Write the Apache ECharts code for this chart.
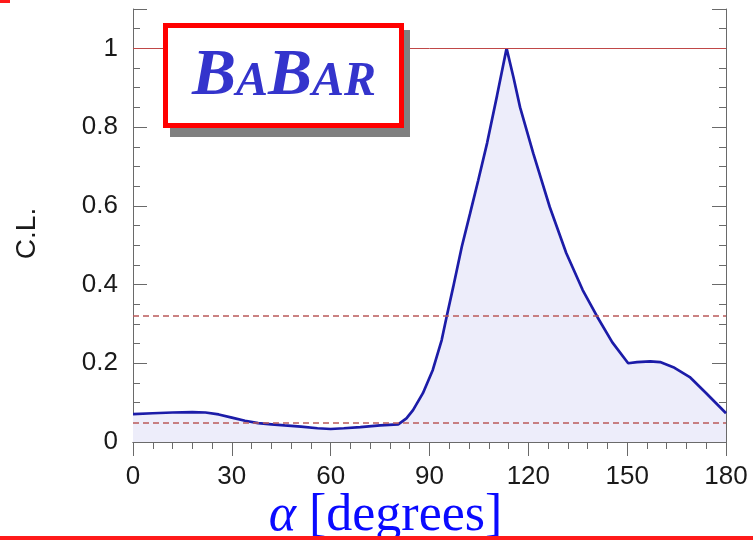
<!DOCTYPE html>
<html>
<head>
<meta charset="utf-8">
<script src="https://cdn.jsdelivr.net/npm/echarts@6/dist/echarts.min.js"></script>
<style>
  html, body { margin: 0; padding: 0; background: #ffffff; }
  #chart { width: 753px; height: 540px; }
</style>
</head>
<body>
<div id="chart"></div>
<script>
// ---- data ----
const alphaDeg = [0, 6, 12, 18, 22, 26, 30, 34, 38, 42, 46, 51, 56, 60, 64, 69, 75, 80.5,
                  83, 85, 88, 91, 93.7, 95.2, 97.2, 99.8, 102.3, 104.8, 107.5, 110.5, 113.4,
                  115.5, 117.5, 121.5, 126.5, 131.5, 136.5, 141, 145.5, 150.3,
                  153, 157, 160, 164, 169, 174, 180];
const confLevel = [0.071, 0.073, 0.075, 0.076, 0.075, 0.070, 0.062, 0.054, 0.048, 0.045, 0.042, 0.039, 0.035, 0.033, 0.035, 0.038, 0.042, 0.045,
                   0.060, 0.081, 0.124, 0.183, 0.259, 0.318, 0.394, 0.496, 0.58, 0.665, 0.76, 0.88, 1.0,
                   0.926, 0.85, 0.733, 0.597, 0.48, 0.386, 0.317, 0.253, 0.2,
                   0.203, 0.205, 0.203, 0.19, 0.165, 0.124, 0.073];
const xTickLabels = [0, 30, 60, 90, 120, 150, 180];
const yTickLabels = [0, 0.2, 0.4, 0.6, 0.8, 1];
const solidRef = [1.0];
const dashedRefs = [0.32, 0.046];
const xTitle = ' [degrees]';
const xSymbol = 'α';
const yTitle = 'C.L.';

const points = alphaDeg.map((a, i) => [a, confLevel[i]]);

const chart = echarts.init(document.getElementById('chart'), null, { renderer: 'canvas' });

const frameColor = '#6a6a6a';
const sans = '"Liberation Sans", Arial, sans-serif';
const serif = '"Liberation Serif", "Times New Roman", serif';

function xAxisBase(pos, showLabel) {
  return {
    type: 'value', position: pos, min: 0, max: 180, interval: 30,
    axisLine: { show: true, lineStyle: { color: frameColor, width: 1 } },
    axisTick: { show: true, inside: true, length: 14, lineStyle: { color: frameColor } },
    minorTick: { show: true, splitNumber: 5, length: 7, lineStyle: { color: frameColor } },
    splitLine: { show: false }, minorSplitLine: { show: false },
    axisLabel: {
      show: showLabel, margin: 22, fontSize: 26, color: '#1a1a1a', fontFamily: sans,
      formatter: v => xTickLabels.includes(v) ? String(v) : ''
    }
  };
}
function yAxisMajor(pos, showLabel) {
  return {
    type: 'value', position: pos, min: 0, max: 1.1, interval: 0.2,
    axisLine: { show: true, lineStyle: { color: frameColor, width: 1 } },
    axisTick: { show: true, inside: true, length: 14, lineStyle: { color: frameColor } },
    splitLine: { show: false },
    axisLabel: {
      show: showLabel, margin: 15, fontSize: 26, color: '#1a1a1a', fontFamily: sans,
      formatter: v => {
        const m = yTickLabels.find(t => Math.abs(t - v) < 1e-6);
        return m === undefined ? '' : String(m);
      }
    }
  };
}
function yAxisMinor(pos) {
  return {
    type: 'value', position: pos, min: 0, max: 1.1, interval: 0.05,
    axisLine: { show: false },
    axisTick: { show: true, inside: true, length: 7, lineStyle: { color: frameColor } },
    splitLine: { show: false },
    axisLabel: { show: false }
  };
}

const yLeft = yAxisMajor('left', true);
yLeft.name = yTitle;
yLeft.nameLocation = 'middle';
yLeft.nameGap = 92;
yLeft.nameMoveOverlap = false;
yLeft.nameTextStyle = { fontSize: 28, color: '#1a1a1a', fontFamily: sans, padding: [0, 16, 0, 0] };

const xBottom = xAxisBase('bottom', true);
xBottom.name = '{a|' + xSymbol + '}{b|' + xTitle + '}';
xBottom.nameLocation = 'middle';
xBottom.nameGap = 48;
xBottom.nameMoveOverlap = false;
xBottom.nameTextStyle = {
  padding: [0, 88, 0, 0],
  rich: {
    a: { fontSize: 52, fontStyle: 'italic', color: '#0a0aff', fontFamily: serif },
    b: { fontSize: 52, color: '#0a0aff', fontFamily: serif }
  }
};

const option = {
  animation: false,
  backgroundColor: '#ffffff',
  grid: { left: 133, right: 27, top: 9, bottom: 98, containLabel: false, outerBoundsMode: 'none' },
  xAxis: [xBottom, xAxisBase('top', false)],
  yAxis: [yLeft, yAxisMinor('left'), yAxisMajor('right', false), yAxisMinor('right')],
  series: [{
    type: 'line',
    xAxisIndex: 0, yAxisIndex: 0,
    data: points,
    showSymbol: false,
    smooth: false,
    lineStyle: { color: '#1c1ca8', width: 2.7 },
    areaStyle: { color: '#ededfa', opacity: 1 },
    z: 3,
    markLine: {
      silent: true,
      symbol: 'none',
      label: { show: false },
      data: [
        ...solidRef.map(v => ({ yAxis: v, lineStyle: { type: 'solid', color: '#c04848', width: 1 } })),
        ...dashedRefs.map(v => ({ yAxis: v, lineStyle: { type: [6, 4], color: '#bb5a5a', width: 1.5 } }))
      ]
    }
  }],
  graphic: [
    // slide decorations
    { type: 'rect', z: 200, shape: { x: 0, y: 536, width: 753, height: 4 }, style: { fill: '#ff1a1a' } },
    { type: 'rect', z: 200, shape: { x: 0, y: 0, width: 10, height: 3 }, style: { fill: '#ff1a1a' } },
    // BaBar logo
    { type: 'rect', z: 100, shape: { x: 170, y: 30, width: 240, height: 107 }, style: { fill: '#808080' } },
    { type: 'rect', z: 101, shape: { x: 165.5, y: 25.5, width: 236, height: 100 },
      style: { fill: '#ffffff', stroke: '#ff0000', lineWidth: 5 } },
    { type: 'text', z: 102, x: 284, y: 77,
      style: {
        text: '{b|B}{s|A}{b|B}{s|AR}',
        align: 'center', verticalAlign: 'middle',
        fill: '#3434cc',
        rich: {
          b: { fontSize: 66, fontStyle: 'italic', fontWeight: 'bold', fontFamily: serif, fill: '#3434cc', color: '#3434cc',
               verticalAlign: 'bottom', textShadowColor: '#b8b8b8', textShadowOffsetX: 3, textShadowOffsetY: 3 },
          s: { fontSize: 48, fontStyle: 'italic', fontWeight: 'bold', fontFamily: serif, fill: '#3434cc', color: '#3434cc',
               verticalAlign: 'bottom', padding: [0, 0, 3, 0], textShadowColor: '#b8b8b8', textShadowOffsetX: 3, textShadowOffsetY: 3 }
        }
      }
    }
  ]
};

chart.setOption(option);
</script>
</body>
</html>
